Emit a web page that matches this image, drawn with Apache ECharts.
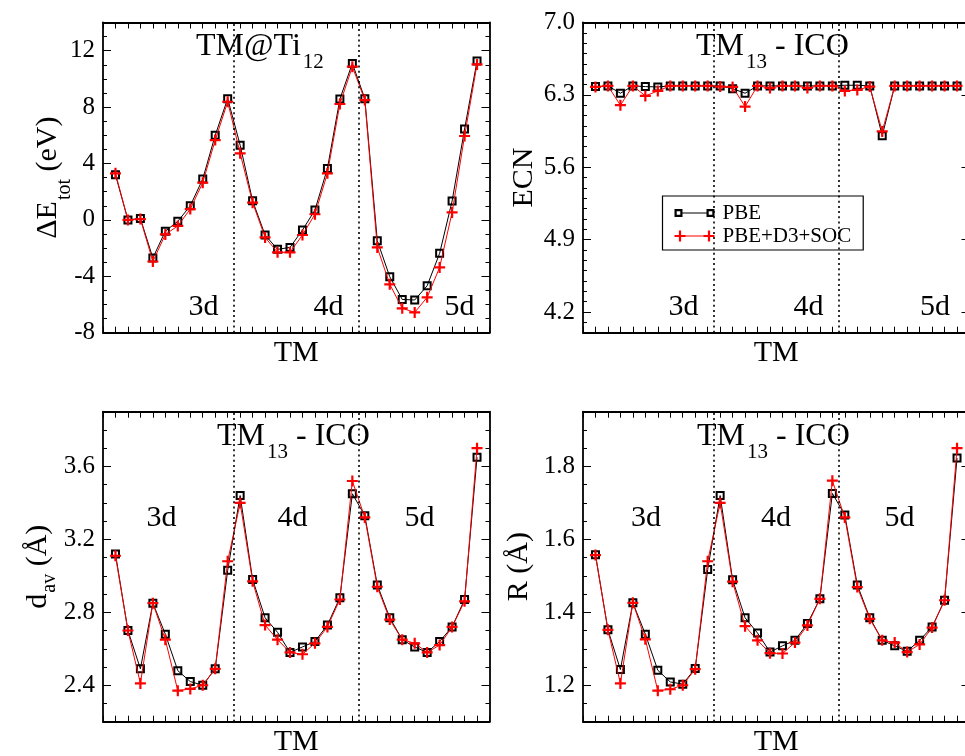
<!DOCTYPE html>
<html>
<head>
<meta charset="utf-8">
<script src="https://cdn.jsdelivr.net/npm/echarts@6/dist/echarts.min.js"></script>
<style>html,body{margin:0;padding:0;background:#fff}#c{width:965px;height:756px}</style>
</head>
<body>
<div id="c"></div>
<script>
// ---------------- data ----------------
const tmLabels = ['Sc','Ti','V','Cr','Mn','Fe','Co','Ni','Cu','Zn',
                  'Y','Zr','Nb','Mo','Tc','Ru','Rh','Pd','Ag','Cd',
                  'La','Hf','Ta','W','Re','Os','Ir','Pt','Au','Hg'];
const seriesNames = ['PBE', 'PBE+D3+SOC'];
const rowLabels = ['3d', '4d', '5d'];
const blockBoundaries = [10.5, 20.5];

const dEtotPBE = [3.2, 0.0, 0.1, -2.7, -0.8, -0.1, 1.0, 2.9, 6.0, 8.6,
                  5.3, 1.35, -1.07, -2.09, -1.95, -0.72, 0.7, 3.65, 8.57, 11.1,
                  8.6, -1.48, -4.03, -5.64, -5.68, -4.67, -2.37, 1.34, 6.44, 11.27];
const dEtotSOC = [3.3, 0.0, 0.06, -2.95, -1.03, -0.43, 0.77, 2.64, 5.66, 8.38,
                  4.72, 1.22, -1.24, -2.3, -2.3, -1.07, 0.4, 3.3, 8.22, 10.87,
                  8.5, -1.95, -4.57, -6.27, -6.56, -5.49, -3.37, 0.53, 5.95, 11.03];

const ecnPBE = [6.38, 6.387, 6.316, 6.387, 6.38, 6.377, 6.387, 6.387, 6.387, 6.387,
                6.387, 6.36, 6.316, 6.387, 6.387, 6.387, 6.387, 6.387, 6.387, 6.387,
                6.393, 6.393, 6.387, 5.905, 6.387, 6.387, 6.387, 6.387, 6.387, 6.387];
const ecnSOC = [6.377, 6.387, 6.20, 6.387, 6.29, 6.338, 6.387, 6.387, 6.387, 6.387,
                6.38, 6.377, 6.187, 6.387, 6.367, 6.387, 6.387, 6.367, 6.387, 6.387,
                6.338, 6.348, 6.38, 5.947, 6.387, 6.387, 6.387, 6.387, 6.387, 6.387];

const davPBE = [3.12, 2.70, 2.49, 2.85, 2.68, 2.48, 2.42, 2.40, 2.49, 3.03,
                3.44, 2.98, 2.77, 2.69, 2.58, 2.61, 2.64, 2.73, 2.88, 3.45,
                3.33, 2.95, 2.77, 2.65, 2.61, 2.58, 2.64, 2.72, 2.87, 3.65];
const davSOC = [3.11, 2.70, 2.41, 2.85, 2.65, 2.37, 2.38, 2.40, 2.49, 3.08,
                3.40, 2.97, 2.73, 2.65, 2.58, 2.57, 2.63, 2.72, 2.87, 3.52,
                3.32, 2.94, 2.76, 2.65, 2.63, 2.58, 2.62, 2.72, 2.86, 3.70];

const rPBE = [1.558, 1.352, 1.243, 1.426, 1.34, 1.241, 1.209, 1.203, 1.246, 1.517,
              1.72, 1.489, 1.385, 1.343, 1.291, 1.308, 1.323, 1.369, 1.437, 1.726,
              1.667, 1.475, 1.385, 1.323, 1.308, 1.293, 1.323, 1.36, 1.433, 1.823];
const rSOC = [1.557, 1.352, 1.205, 1.426, 1.326, 1.185, 1.189, 1.20, 1.244, 1.54,
              1.70, 1.484, 1.362, 1.323, 1.288, 1.287, 1.317, 1.364, 1.437, 1.761,
              1.66, 1.469, 1.382, 1.323, 1.317, 1.291, 1.312, 1.358, 1.433, 1.85];

const dEtotTicks = [-8, -4, 0, 4, 8, 12];
const ecnTicks = [4.2, 4.9, 5.6, 6.3, 7.0];
const davTicks = [2.4, 2.8, 3.2, 3.6];
const rTicks = [1.2, 1.4, 1.6, 1.8];

// ---------------- styling / layout ----------------
const F = 'Liberation Serif';
const plusSym = 'path://M4.4,0H6.6V4.4H11V6.6H6.6V11H4.4V6.6H0V4.4H4.4Z';
const pbeIcon = 'path://M0,1.5H8V9.5H0Z M2.2,3.7V7.3H5.8V3.7Z M8,5H32V6H8Z M32,1.5H40V9.5H32Z M34.2,3.7V7.3H37.8V3.7Z M20,0H20.01V0.01H20Z M20,11H20.01V10.99H20Z';
const socIcon = 'path://M4.4,0H6.6V4.4H11V6.6H6.6V11H4.4V6.6H0V4.4H4.4Z M11,5H29V6H11Z M33.4,0H35.6V4.4H40V6.6H35.6V11H33.4V6.6H29V4.4H33.4Z';

function seq(a, b, step) {
  const out = [];
  const n = Math.round((b - a) / step);
  for (let i = 0; i <= n; i++) out.push(+(a + i * step).toFixed(4));
  return out;
}
const toPoints = arr => arr.map((v, i) => [tmLabels.indexOf(tmLabels[i]) + 1, v]);

const panels = [
  {grid: {left: 103, right: 475.5, top: 22.5, bottom: 423.3}, yMin: -8, yMax: 14, major: dEtotTicks, minorStep: 1, dec: 0,
   pbe: dEtotPBE, soc: dEtotSOC, yName: '{m|ΔE}{s|tot}{m| (eV)}', subPad: 22, nameGap: 40,
   title: '{m|TM@Ti}{s|12}', tLeft: 196, tTop: 30.4, labY: 316, labX: [188.5, 313.5, 444.5]},
  {grid: {left: 583, right: -4.5, top: 22.5, bottom: 423.3}, yMin: 4.0, yMax: 7.0, major: ecnTicks, minorStep: 0.1, dec: 1,
   pbe: ecnPBE, soc: ecnSOC, yName: 'ECN', subPad: 0, nameGap: 44,
   title: '{m|TM}{s|13}{m| - ICO}', tLeft: 696, tTop: 30.4, labY: 316, labX: [668.5, 793.5, 920]},
  {grid: {left: 103, right: 475.5, top: 411.7, bottom: 34.3}, yMin: 2.2, yMax: 3.9, major: davTicks, minorStep: 0.1, dec: 1,
   pbe: davPBE, soc: davSOC, yName: '{m|d}{s|av}{m| (Å)}', subPad: 17, nameGap: 50,
   title: '{m|TM}{s|13}{m| - ICO}', tLeft: 217, tTop: 420.4, labY: 527.5, labX: [146.5, 277.5, 404.5]},
  {grid: {left: 583, right: -4.5, top: 411.7, bottom: 34.3}, yMin: 1.1, yMax: 1.95, major: rTicks, minorStep: 0.05, dec: 1,
   pbe: rPBE, soc: rSOC, yName: 'R (Å)', subPad: 0, nameGap: 49,
   title: '{m|TM}{s|13}{m| - ICO}', tLeft: 697, tTop: 420.4, labY: 527.5, labX: [631, 761, 884.5]}
];

const grids = [], xAxes = [], yAxes = [], series = [], titles = [], graphics = [];
const lineCol = '#000';

panels.forEach((p, gi) => {
  grids.push(Object.assign({containLabel: false, outerBoundsMode: 'none', show: false}, p.grid));
  const xBase = {
    gridIndex: gi, type: 'value', min: 0, max: 31, interval: 1,
    axisLine: {show: true, onZero: false, lineStyle: {color: lineCol, width: 1.8}},
    axisTick: {show: true, inside: true, length: 6, lineStyle: {color: lineCol, width: 1}},
    axisLabel: {show: false}, splitLine: {show: false}
  };
  xAxes.push(Object.assign({}, xBase, {position: 'bottom', name: 'TM', nameLocation: 'middle', nameGap: 5,
    nameTextStyle: {fontFamily: F, fontSize: 30, fontWeight: 'normal', color: '#000', lineHeight: 30}}));
  xAxes.push(Object.assign({}, xBase, {position: 'top'}));

  const minors = seq(p.yMin, p.yMax, p.minorStep);
  const yBase = {gridIndex: gi, type: 'value', min: p.yMin, max: p.yMax, splitLine: {show: false}};
  const rich = {
    m: {fontFamily: F, fontSize: 30, fontWeight: 'normal', lineHeight: 30, verticalAlign: 'top', color: '#000'},
    s: {fontFamily: F, fontSize: 20, fontWeight: 'normal', lineHeight: 20, verticalAlign: 'top', color: '#000', padding: [p.subPad, 0, 0, 1]}
  };
  yAxes.push(Object.assign({}, yBase, {
    position: 'left',
    axisLine: {show: true, onZero: false, lineStyle: {color: lineCol, width: 1.8}},
    axisTick: {show: true, inside: true, length: 8, customValues: p.major, lineStyle: {color: lineCol, width: 1}},
    axisLabel: {show: true, customValues: p.major, margin: 8, fontFamily: F, fontSize: 25, color: '#000',
      formatter: v => Number(v).toFixed(p.dec)},
    name: p.yName, nameLocation: 'middle', nameGap: p.nameGap, nameRotate: 90, nameMoveOverlap: false,
    nameTextStyle: {fontFamily: F, fontSize: 30, fontWeight: 'normal', lineHeight: 30, color: '#000', rich: rich}
  }));
  yAxes.push(Object.assign({}, yBase, {
    position: 'left', axisLine: {show: false, onZero: false},
    axisTick: {show: true, inside: true, length: 4, customValues: minors, lineStyle: {color: lineCol, width: 1}},
    axisLabel: {show: false}
  }));
  yAxes.push(Object.assign({}, yBase, {
    position: 'right',
    axisLine: {show: true, onZero: false, lineStyle: {color: lineCol, width: 1.8}},
    axisTick: {show: true, inside: true, length: 8, customValues: p.major, lineStyle: {color: lineCol, width: 1}},
    axisLabel: {show: false}
  }));
  yAxes.push(Object.assign({}, yBase, {
    position: 'right', axisLine: {show: false, onZero: false},
    axisTick: {show: true, inside: true, length: 4, customValues: minors, lineStyle: {color: lineCol, width: 1}},
    axisLabel: {show: false}
  }));

  // PBE: line + hollow square markers
  series.push({
    name: seriesNames[0], type: 'line', xAxisIndex: gi * 2, yAxisIndex: gi * 4,
    data: toPoints(p.pbe), symbol: 'none', color: '#000',
    itemStyle: {color: '#000'},
    lineStyle: {color: '#000', width: 1},
    emphasis: {disabled: true}, clip: false,
    markLine: {
      silent: true, symbol: 'none', label: {show: false}, emphasis: {disabled: true},
      lineStyle: {color: '#000', type: [2, 3.2], width: 1.6},
      data: blockBoundaries.map(x => ({xAxis: x}))
    }
  });
  series.push({
    name: seriesNames[0], type: 'scatter', xAxisIndex: gi * 2, yAxisIndex: gi * 4,
    data: toPoints(p.pbe), symbol: 'emptyRect', symbolSize: 7, color: '#000',
    itemStyle: {color: '#000', borderColor: '#000', borderWidth: 2, opacity: 1},
    emphasis: {disabled: true}, clip: false
  });
  // PBE+D3+SOC: line + plus markers
  series.push({
    name: seriesNames[1], type: 'line', xAxisIndex: gi * 2, yAxisIndex: gi * 4,
    data: toPoints(p.soc), symbol: plusSym, symbolSize: 11, color: '#ff0000',
    itemStyle: {color: '#ff0000', borderWidth: 0},
    lineStyle: {color: '#ff0000', width: 1},
    emphasis: {disabled: true}, clip: false
  });

  titles.push({
    text: p.title, left: p.tLeft, top: p.tTop, padding: 0,
    textStyle: {fontFamily: F, fontSize: 32, fontWeight: 'normal', color: '#000', rich: {
      m: {fontFamily: F, fontSize: 32, fontWeight: 'normal', lineHeight: 32, verticalAlign: 'top', color: '#000'},
      s: {fontFamily: F, fontSize: 21, fontWeight: 'normal', lineHeight: 21, verticalAlign: 'top', color: '#000', padding: [22, 0, 0, 2]}
    }}
  });

  rowLabels.forEach((t, k) => {
    graphics.push({type: 'text', x: p.labX[k], y: p.labY - 9.15, silent: true,
      style: {text: t, fontFamily: F, fontSize: 30, fill: '#000', align: 'left', verticalAlign: 'middle'}});
  });
});

const chart = echarts.init(document.getElementById('c'), null, {renderer: 'canvas'});
chart.setOption({
  animation: false,
  backgroundColor: '#fff',
  title: titles,
  grid: grids,
  xAxis: xAxes,
  yAxis: yAxes,
  series: series,
  graphic: graphics,
  legend: {
    data: [{name: seriesNames[0], icon: pbeIcon, itemStyle: {color: '#000'}},
           {name: seriesNames[1], icon: socIcon, itemStyle: {color: '#ff0000'}}],
    orient: 'vertical', left: 662.5, top: 196, padding: [6, 12, 3, 12], itemGap: 1,
    itemWidth: 40, itemHeight: 11, borderColor: '#000', borderWidth: 1.2, borderRadius: 0,
    backgroundColor: '#fff', selectedMode: false,
    itemStyle: {borderWidth: 0},
    textStyle: {fontFamily: F, fontSize: 21, color: '#000', lineHeight: 22, padding: [0, 0, 0, 3]}
  }
});
</script>
</body>
</html>
